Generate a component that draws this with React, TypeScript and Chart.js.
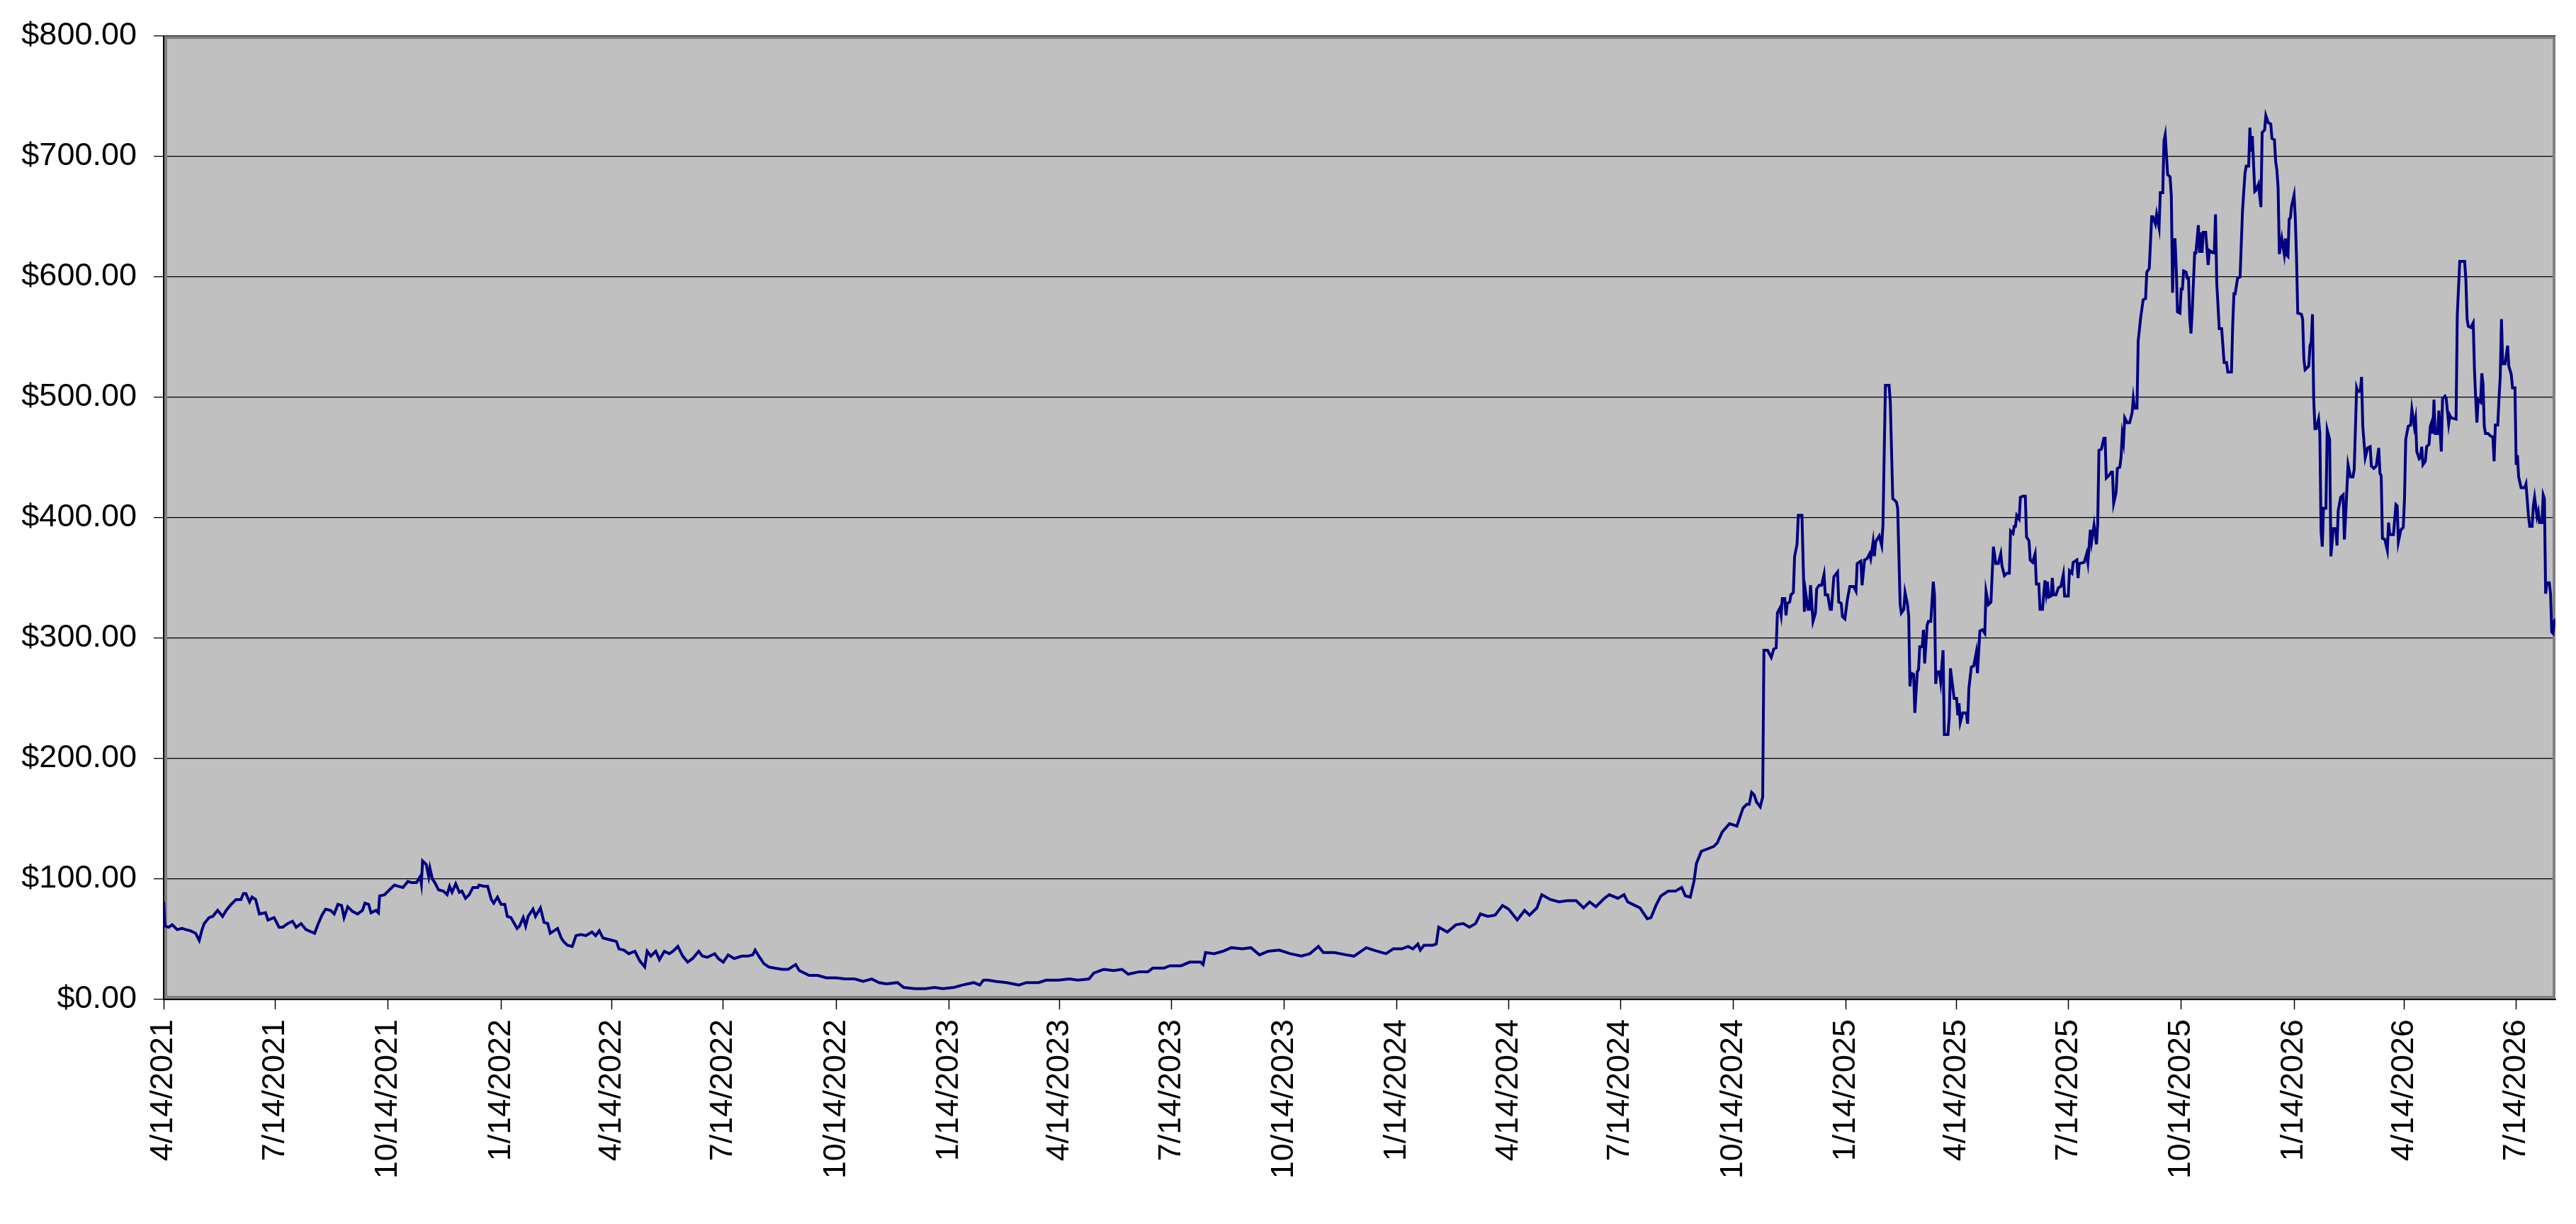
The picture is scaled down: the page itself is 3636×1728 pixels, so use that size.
import React, { useEffect, useRef } from 'react';
import { Chart, registerables } from 'chart.js';

Chart.register(...registerables);

// first trading day of the series, day offsets below count from it
const START_DATE = '4/14/2021';

// quarterly labels on the date axis
const tickDates = [
  '4/14/2021', '7/14/2021', '10/14/2021', '1/14/2022', '4/14/2022', '7/14/2022',
  '10/14/2022', '1/14/2023', '4/14/2023', '7/14/2023', '10/14/2023', '1/14/2024',
  '4/14/2024', '7/14/2024', '10/14/2024', '1/14/2025', '4/14/2025', '7/14/2025',
  '10/14/2025', '1/14/2026', '4/14/2026', '7/14/2026',
];

// days since START_DATE for each close
const dayOffsets = [
  0, 1, 4, 7, 11, 15, 18, 22, 26, 29,
  31, 33, 37, 40, 44, 48, 51, 55, 59, 63,
  65, 67, 70, 72, 75, 78, 83, 85, 90, 94,
  97, 101, 105, 108, 112, 116, 123, 126, 129, 132,
  136, 139, 142, 145, 147, 150, 154, 158, 162, 164,
  167, 169, 173, 175, 176, 180, 184, 188, 191, 195,
  199, 202, 206, 209, 210, 211, 214, 216, 217, 219,
  221, 224, 228, 231, 233, 235, 238, 241, 243, 246,
  249, 252, 256, 257, 261, 264, 267, 269, 272, 275,
  278, 280, 283, 288, 290, 293, 295, 297, 301, 303,
  307, 310, 313, 315, 318, 321, 324, 326, 329, 333,
  336, 340, 344, 349, 352, 355, 358, 362, 366, 369,
  371, 375, 379, 384, 388, 392, 394, 397, 401, 404,
  408, 412, 415, 419, 423, 427, 431, 436, 439, 443,
  449, 452, 456, 460, 465, 471, 476, 480, 482, 485,
  489, 493, 498, 504, 509, 515, 518, 526, 533, 540,
  548, 555, 563, 570,
  577, 583, 589, 598, 603, 612, 621, 628, 635, 644,
  651, 660, 665, 668, 672, 678, 687, 697, 703, 713,
  719, 729, 738, 745, 754, 758, 766, 774, 781, 786,
  795, 802, 806, 815, 820, 829, 836, 845, 847, 849,
  856, 863, 870, 879, 886, 893, 900, 909, 918, 927,
  934, 941, 945, 954, 964, 970, 980, 986, 996, 1002,
  1009, 1014, 1018, 1022, 1024, 1027, 1034, 1037, 1039, 1046,
  1053, 1059, 1064, 1069, 1073, 1079, 1085, 1091, 1096, 1103,
  1109, 1113, 1119, 1123, 1130, 1137, 1144, 1151, 1157, 1162,
  1167, 1174, 1178, 1185, 1190, 1193, 1199, 1203, 1209, 1212,
  1216, 1220, 1226, 1232, 1237, 1240, 1244, 1247, 1249, 1253,
  1258, 1263, 1266, 1270, 1276, 1282,
  1287, 1290, 1292, 1294, 1296, 1298, 1301, 1303, 1304, 1307,
  1310, 1312, 1314, 1315, 1317, 1318, 1319, 1321, 1322, 1323,
  1325, 1326, 1328, 1329, 1331, 1332, 1335, 1337, 1338, 1340,
  1341, 1342, 1344, 1346, 1347, 1349, 1351, 1353, 1354, 1356,
  1358, 1359, 1361, 1364, 1365, 1367, 1368, 1370, 1372, 1374,
  1377, 1379, 1380, 1383, 1384, 1386, 1388, 1390, 1391, 1393,
  1394, 1395, 1398, 1400, 1401, 1403, 1406, 1407, 1409, 1412,
  1413, 1415, 1416, 1418, 1419, 1421, 1422, 1423, 1424, 1426,
  1427, 1429, 1430, 1431, 1433, 1434, 1435, 1437, 1438, 1440,
  1442, 1443, 1444, 1445, 1447, 1448, 1450, 1451, 1454, 1455,
  1456, 1459, 1461, 1462, 1463, 1464, 1466, 1469, 1470, 1471,
  1473, 1475, 1477, 1478, 1480, 1482, 1484, 1485, 1487, 1489,
  1491, 1493, 1495, 1497, 1498, 1500,
  1502, 1504, 1505, 1507, 1508, 1509, 1510, 1512, 1513, 1515,
  1517, 1518, 1520, 1521, 1523, 1525, 1526, 1528, 1529, 1531,
  1533, 1534, 1535, 1536, 1538, 1539, 1540, 1542, 1544, 1546,
  1548, 1549, 1552, 1553, 1555, 1556, 1559, 1560, 1561, 1565,
  1567, 1568, 1570, 1571, 1573, 1575, 1576, 1577, 1579, 1581,
  1582, 1583, 1585, 1587, 1588, 1589, 1591, 1592, 1594, 1595,
  1596, 1597, 1598, 1600, 1602, 1604, 1605, 1606, 1608, 1609,
  1611, 1613, 1615, 1616, 1618, 1620, 1621, 1623, 1624, 1626,
  1627, 1629, 1630, 1631, 1633, 1635, 1636, 1637, 1638, 1639,
  1640, 1641, 1643, 1644, 1645, 1646, 1648, 1649, 1650, 1651,
  1652, 1653, 1655, 1656, 1658, 1659, 1660, 1661, 1662, 1664,
  1666, 1667, 1670, 1671, 1672, 1673, 1674, 1675, 1677, 1679,
  1681, 1682, 1685, 1686, 1687, 1688, 1690, 1692, 1694, 1696,
  1697, 1699, 1700, 1701, 1702, 1704, 1705, 1707, 1709, 1710,
  1712, 1713, 1715, 1717, 1718, 1720, 1721, 1722, 1723, 1724,
  1726, 1728, 1729, 1730, 1731, 1732, 1733, 1734, 1736, 1737,
  1738, 1739, 1742, 1743, 1744, 1745, 1748, 1749, 1750, 1751,
  1752, 1753, 1754, 1756, 1757, 1758, 1759, 1760, 1762, 1763,
  1765, 1766, 1768, 1770, 1771, 1772, 1774, 1776, 1777, 1778,
  1780, 1782, 1784, 1785, 1787, 1788, 1790, 1791, 1792, 1794,
  1796, 1798, 1799, 1801, 1803, 1805, 1806, 1807, 1808, 1810,
  1812, 1813, 1814, 1817, 1819, 1820, 1821, 1823, 1825, 1826,
  1827, 1829, 1831, 1832, 1834, 1835, 1836, 1838, 1839, 1840,
  1841, 1843, 1844, 1846, 1847, 1848, 1849, 1850, 1851, 1853,
  1854, 1856, 1857, 1859, 1860, 1862, 1863, 1864, 1868, 1869,
  1871, 1874, 1875, 1876, 1877, 1878, 1880, 1882, 1883, 1884,
  1885, 1886, 1888, 1889, 1890, 1891, 1892, 1894, 1896, 1898,
  1899, 1900, 1902, 1903, 1904, 1905, 1906, 1908, 1910, 1911,
  1913, 1914, 1916, 1917, 1918, 1919, 1921, 1924, 1925, 1927,
  1928, 1930, 1931, 1932, 1934, 1935, 1936, 1938, 1939, 1940,
  1941, 1942, 1944, 1945, 1946, 1947, 1948, 1949,
];

// closing prices in dollars, same order as dayOffsets
const prices = [
  81, 61, 60, 62, 58, 59, 58, 57, 55, 49,
  57, 63, 68, 69, 74, 69, 74, 79, 83, 83,
  88, 88, 81, 85, 83, 71, 72, 66, 68, 60,
  60, 63, 65, 60, 63, 58, 55, 63, 70, 75,
  74, 71, 79, 78, 68, 77, 73, 71, 74, 80,
  79, 72, 74, 72, 86, 87, 91, 95, 94, 93,
  98, 97, 97, 102, 96, 115, 112, 102, 109, 100,
  97, 91, 90, 87, 94, 89, 96, 89, 90, 84,
  87, 93, 93, 95, 94, 94, 83, 80, 85, 79,
  79, 69, 68, 59, 61, 68, 61, 69, 75, 69,
  76, 64, 63, 55, 57, 59, 51, 48, 45, 44,
  53, 54, 53, 56, 53, 57, 51, 50, 49, 48,
  42, 41, 38, 40, 32, 27, 40, 36, 40, 33,
  40, 38, 40, 44, 36, 31, 34, 40, 36, 35,
  38, 34, 31, 37, 34, 36, 36, 37, 41, 36,
  30, 27, 26, 25, 25, 29, 24, 20, 20, 18,
  18, 17, 17, 15,
  17, 14, 13, 14, 10, 9, 9, 10, 9, 10,
  12, 14, 12, 16, 16, 15, 14, 12, 14, 14,
  16, 16, 17, 16, 17, 22, 25, 24, 25, 21,
  23, 23, 26, 26, 28, 28, 31, 31, 29, 39,
  38, 40, 43, 42, 43, 37, 40, 41, 38, 36,
  38, 44, 39, 39, 37, 36, 43, 41, 38, 42,
  42, 44, 42, 46, 41, 45, 45, 46, 60, 56,
  62, 63, 60, 63, 71, 69, 70, 78, 75, 66,
  74, 70, 76, 87, 83, 81, 82, 82, 76, 81,
  77, 84, 87, 84, 87, 81, 78, 76, 67, 68,
  78, 86, 90, 90, 93, 86, 85, 98, 113, 123,
  125, 127, 130, 139, 146, 144,
  159, 162, 162, 172, 170, 164, 160, 168, 290, 290,
  284, 291, 292, 321, 325, 319, 333, 333, 319, 329,
  330, 336, 338, 368, 378, 402, 402, 322, 338, 324,
  324, 344, 314, 321, 341, 344, 344, 353, 336, 336,
  324, 324, 351, 355, 330, 329, 318, 316, 332, 343,
  343, 339, 362, 364, 344, 365, 366, 370, 366, 380,
  368, 380, 385, 377, 394, 510, 510, 496, 416, 413,
  408, 328, 321, 324, 338, 328, 318, 260, 271, 270,
  238, 272, 274, 293, 293, 307, 279, 311, 314, 314,
  347, 336, 262, 272, 272, 264, 290, 220, 220, 234,
  275, 250, 250, 236, 246, 230, 238, 238, 229, 258,
  276, 277, 288, 271, 306, 307, 304, 339, 328, 330,
  376, 362, 362, 370, 360, 352,
  354, 354, 389, 387, 393, 393, 402, 399, 417, 418,
  418, 384, 381, 365, 363, 370, 345, 345, 324, 324,
  348, 338, 347, 334, 335, 350, 336, 336, 342, 343,
  353, 335, 335, 356, 354, 363, 365, 350, 362, 363,
  370, 363, 390, 380, 394, 378, 395, 456, 457, 466,
  466, 433, 435, 438, 438, 412, 421, 441, 442, 450,
  469, 463, 483, 479, 479, 487, 499, 491, 491, 547,
  566, 581, 582, 604, 607, 650, 650, 644, 652, 641,
  670, 670, 713, 718, 685, 683, 667, 587, 631, 631,
  607, 571, 570, 590, 590, 605, 604, 599, 599, 565,
  553, 571, 620, 620, 643, 620, 637, 620, 637, 637,
  610, 622, 620, 620, 652, 595, 577, 557, 557, 529,
  529, 521, 521, 560, 586, 586, 599, 600, 655, 686,
  692, 692, 724, 704, 717, 671, 672, 677, 658, 720,
  722, 734, 728, 727, 715, 714, 696, 689, 674, 619,
  632, 619, 632, 618, 617, 648, 649, 659, 668, 649,
  616, 570, 569, 565, 532, 523, 526, 543, 546, 569,
  499, 474, 474, 482, 470, 389, 376, 408, 408, 473,
  465, 368, 391, 391, 377, 406, 417, 419, 382, 401,
  444, 434, 434, 440, 508, 505, 505, 517, 476, 450,
  458, 459, 443, 441, 443, 458, 437, 435, 383, 382,
  373, 396, 386, 386, 411, 410, 380, 390, 392, 416,
  465, 476, 477, 490, 476, 482, 455, 449, 450, 459,
  444, 447, 459, 461, 476, 479, 470, 498, 470, 470,
  489, 455, 499, 501, 499, 478, 485, 483, 482, 568,
  613, 613, 613, 598, 565, 559, 558, 562, 523, 499,
  479, 498, 496, 520, 511, 476, 470, 470, 468, 467,
  447, 477, 477, 499, 517, 565, 528, 528, 543, 526,
  519, 508, 508, 444, 452, 434, 425, 425, 428, 402,
  393, 393, 410, 417, 401, 405, 396, 396, 419, 416,
  337, 346, 346, 337, 305, 304, 314, 316,
];

const toUtc = (s: string) => {
  const [m, d, y] = s.split('/').map(Number);
  return Date.UTC(y, m - 1, d);
};
const daysFromStart = (s: string) => Math.round((toUtc(s) - toUtc(START_DATE)) / 86400000);

const FONT = "'Liberation Sans', Arial, sans-serif";

// grey plot area with a darker frame, like the spreadsheet chart
const plotFrame = {
  id: 'plotFrame',
  beforeDraw(chart: Chart) {
    const { ctx, chartArea } = chart;
    ctx.save();
    ctx.fillStyle = '#c0c0c0';
    ctx.fillRect(chartArea.left, chartArea.top, chartArea.width, chartArea.height);
    ctx.restore();
  },
  beforeDatasetsDraw(chart: Chart) {
    const { ctx, chartArea } = chart;
    ctx.save();
    ctx.strokeStyle = '#808080';
    ctx.lineWidth = 4;
    ctx.strokeRect(chartArea.left + 3, chartArea.top + 2, chartArea.width - 5, chartArea.height - 5);
    ctx.restore();
  },
};

const PriceChart: React.FC = () => {
  const chartRef = useRef<HTMLCanvasElement>(null);
  const chartInstance = useRef<Chart | null>(null);

  useEffect(() => {
    document.body.style.margin = '0';
    if (!chartRef.current) return;
    const ctx = chartRef.current.getContext('2d');
    if (!ctx) return;

    if (chartInstance.current) {
      chartInstance.current.destroy();
    }

    const n = Math.min(dayOffsets.length, prices.length);
    const points = [];
    for (let i = 0; i < n; i++) points.push({ x: dayOffsets[i], y: prices[i] });
    const tickDays = tickDates.map(daysFromStart);

    chartInstance.current = new Chart(ctx, {
      type: 'line',
      data: {
        datasets: [
          {
            data: points,
            borderColor: '#000080',
            borderWidth: 4,
            pointRadius: 0,
            tension: 0,
            fill: false,
          },
        ],
      },
      options: {
        animation: false,
        responsive: true,
        maintainAspectRatio: false,
        devicePixelRatio: 1,
        layout: { padding: { top: 43, right: 29, left: 0, bottom: 0 } },
        plugins: {
          legend: { display: false },
          tooltip: { enabled: false },
        },
        scales: {
          x: {
            type: 'linear',
            min: 0,
            max: dayOffsets[dayOffsets.length - 1],
            afterBuildTicks: (scale: any) => {
              scale.ticks = tickDays.map((v) => ({ value: v }));
            },
            afterFit: (scale: any) => {
              scale.height = 317;
            },
            grid: {
              drawOnChartArea: false,
              drawTicks: true,
              tickLength: 14,
              tickColor: '#000',
              tickWidth: 1.5,
            },
            border: { display: true, color: '#000', width: 2 },
            ticks: {
              autoSkip: false,
              minRotation: 90,
              maxRotation: 90,
              padding: 14,
              color: '#000',
              font: { family: FONT, size: 45 },
              callback: (_v: any, i: number) => tickDates[i],
            },
          },
          y: {
            min: 0,
            max: 800,
            afterFit: (scale: any) => {
              scale.width = 231;
            },
            grid: {
              color: '#000',
              lineWidth: 1.3,
              drawTicks: true,
              tickLength: 14,
              tickColor: '#000',
            },
            border: { display: true, color: '#000', width: 2 },
            ticks: {
              stepSize: 100,
              padding: 24,
              color: '#000',
              font: { family: FONT, size: 45 },
              callback: (v: any) => '$' + Number(v).toFixed(2),
            },
          },
        },
      },
      plugins: [plotFrame],
    });

    return () => {
      if (chartInstance.current) {
        chartInstance.current.destroy();
        chartInstance.current = null;
      }
    };
  }, []);

  return (
    <div style={{ width: '3636px', height: '1728px', position: 'relative', background: '#fff' }}>
      <canvas ref={chartRef} />
    </div>
  );
};

export default function App() {
  return <PriceChart />;
}
